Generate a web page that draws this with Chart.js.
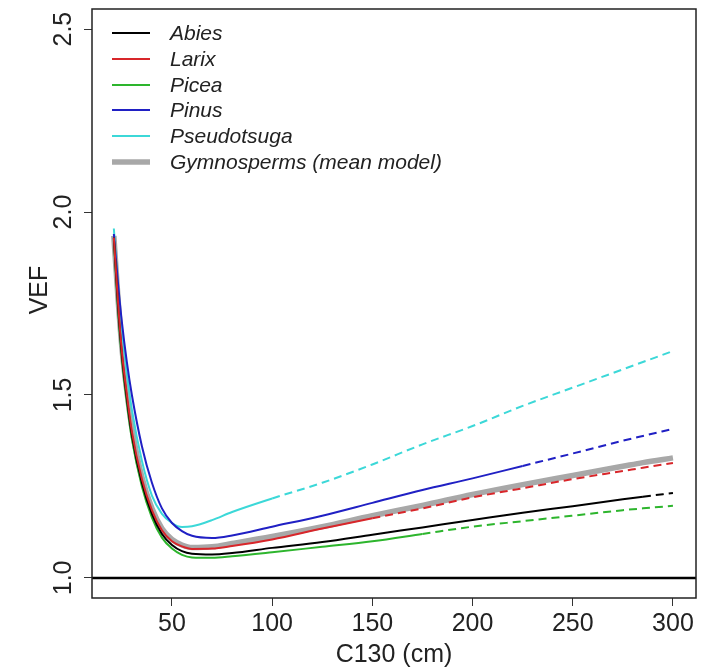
<!DOCTYPE html>
<html>
<head>
<meta charset="utf-8">
<script src="https://cdn.jsdelivr.net/npm/chart.js@4.4.1/dist/chart.umd.min.js"></script>
<style>
  html, body { margin: 0; padding: 0; background: #ffffff; }
  #wrap { width: 705px; height: 669px; position: relative; }
</style>
</head>
<body>
<div id="wrap"><canvas id="c" width="705" height="669"></canvas></div>
<script>
// ---- data ----
const c130 = [21, 23, 25, 27.5, 30, 35, 40, 45, 50, 55, 60, 70, 80, 100, 125, 150, 175, 200, 225, 250, 275, 285, 300];
const abies       = [1.93, 1.75, 1.61, 1.49, 1.39, 1.26, 1.175, 1.12, 1.09, 1.073, 1.066, 1.064, 1.068, 1.082, 1.098, 1.118, 1.138, 1.158, 1.178, 1.196, 1.215, 1.222, 1.232];
const larix       = [1.93, 1.76, 1.62, 1.50, 1.40, 1.27, 1.185, 1.13, 1.10, 1.086, 1.079, 1.08, 1.087, 1.105, 1.135, 1.163, 1.19, 1.22, 1.245, 1.27, 1.292, 1.301, 1.314];
const picea       = [1.925, 1.74, 1.60, 1.48, 1.38, 1.25, 1.165, 1.11, 1.08, 1.063, 1.056, 1.055, 1.059, 1.07, 1.085, 1.10, 1.12, 1.14, 1.155, 1.17, 1.185, 1.19, 1.197];
const pinus       = [1.94, 1.81, 1.70, 1.59, 1.50, 1.36, 1.26, 1.19, 1.15, 1.128, 1.115, 1.109, 1.116, 1.14, 1.17, 1.205, 1.24, 1.272, 1.306, 1.34, 1.375, 1.388, 1.407];
const pseudotsuga = [1.955, 1.80, 1.68, 1.56, 1.46, 1.32, 1.225, 1.175, 1.15, 1.139, 1.141, 1.158, 1.18, 1.217, 1.26, 1.31, 1.365, 1.415, 1.47, 1.52, 1.57, 1.59, 1.62];
const gymnosperms = [1.935, 1.77, 1.63, 1.51, 1.41, 1.275, 1.19, 1.135, 1.105, 1.09, 1.083, 1.085, 1.094, 1.113, 1.14, 1.17, 1.198, 1.228, 1.255, 1.28, 1.305, 1.315, 1.328];
// C130 beyond which each model is drawn dashed (extrapolation)
const seriesNames = ['Abies', 'Larix', 'Picea', 'Pinus', 'Pseudotsuga', 'Gymnosperms (mean model)'];
const solidUntil  = [285, 150, 175, 225, 100, 9999];
const xTickValues = [50, 100, 150, 200, 250, 300];
const yTickValues = [1.0, 1.5, 2.0, 2.5];
const yTickLabels = ['1.0', '1.5', '2.0', '2.5'];
const refLevel = [1.0];

const seriesValues = [abies, larix, picea, pinus, pseudotsuga, gymnosperms];
const colors = ['#000000', '#d8262a', '#2db52d', '#2020c4', '#3cd8d8', '#a8a8a8'];
const widths = [2, 2, 2, 2, 2, 5.5];
const X_MIN = 10.1, X_MAX = 311.5, Y_MIN = 0.945, Y_MAX = 2.555;
const FONT = '"Liberation Sans", Arial, sans-serif';

const datasets = seriesValues.map((vals, i) => ({
  label: seriesNames[i],
  data: c130.map((x, k) => ({ x: x, y: vals[k] })),
  borderColor: colors[i],
  backgroundColor: colors[i],
  borderWidth: widths[i],
  pointRadius: 0,
  fill: false,
  cubicInterpolationMode: 'monotone',
  order: i === 5 ? 10 : (i === 1 ? 1 : 2),
  borderDash: [],
  segment: {
    borderDash: ctx => (ctx.p0.parsed.x >= solidUntil[i] ? [8, 5] : undefined)
  }
}));
datasets.push({
  label: 'ref',
  data: [{ x: X_MIN, y: refLevel[0] }, { x: X_MAX, y: refLevel[0] }],
  borderColor: '#000000',
  borderWidth: 2.5,
  pointRadius: 0,
  order: 0
});

const decor = {
  id: 'decor',
  afterDraw(chart) {
    const ctx = chart.ctx;
    const a = chart.chartArea;
    const ys = chart.scales.y;
    ctx.save();
    // box
    ctx.strokeStyle = '#222';
    ctx.lineWidth = 1.5;
    ctx.strokeRect(a.left, a.top, a.right - a.left, a.bottom - a.top);
    // y tick labels (rotated, R style)
    ctx.fillStyle = '#222';
    ctx.font = '25px ' + FONT;
    ctx.textAlign = 'center';
    ctx.textBaseline = 'middle';
    yTickValues.forEach((v, i) => {
      const py = ys.getPixelForValue(v);
      ctx.save();
      ctx.translate(64, py);
      ctx.rotate(-Math.PI / 2);
      ctx.fillText(yTickLabels[i], 0, 0);
      ctx.restore();
    });
    // axis titles
    ctx.save();
    ctx.translate(40, 290);
    ctx.rotate(-Math.PI / 2);
    ctx.fillText('VEF', 0, 0);
    ctx.restore();
    ctx.fillText('C130 (cm)', (a.left + a.right) / 2, 655);
    // legend
    ctx.font = 'italic 21px ' + FONT;
    ctx.textAlign = 'left';
    const rowY = [33, 59, 85, 110, 136, 162];
    seriesNames.forEach((name, i) => {
      ctx.strokeStyle = colors[i];
      ctx.lineWidth = widths[i];
      ctx.setLineDash([]);
      ctx.beginPath();
      ctx.moveTo(112, rowY[i]);
      ctx.lineTo(150, rowY[i]);
      ctx.stroke();
      ctx.fillStyle = '#222';
      ctx.fillText(name, 170, rowY[i] + 1);
    });
    ctx.restore();
  }
};

new Chart(document.getElementById('c'), {
  type: 'line',
  data: { datasets: datasets },
  options: {
    responsive: false,
    animation: false,
    layout: { padding: { top: 9, right: 9, left: 0, bottom: 0 } },
    plugins: { legend: { display: false }, tooltip: { enabled: false } },
    scales: {
      x: {
        type: 'linear',
        min: X_MIN, max: X_MAX,
        afterBuildTicks: s => { s.ticks = xTickValues.map(v => ({ value: v })); },
        afterFit: s => { s.height = 71; },
        grid: { drawOnChartArea: false, drawTicks: true, tickLength: 8, color: '#333', lineWidth: 1 },
        border: { display: false },
        ticks: { color: '#222', font: { family: FONT, size: 25 }, padding: 3, maxRotation: 0, autoSkip: false }
      },
      y: {
        type: 'linear',
        min: Y_MIN, max: Y_MAX,
        afterBuildTicks: s => { s.ticks = yTickValues.map(v => ({ value: v })); },
        afterFit: s => { s.width = 92; },
        grid: { drawOnChartArea: false, drawTicks: true, tickLength: 8, color: '#333', lineWidth: 1 },
        border: { display: false },
        ticks: { display: false }
      }
    }
  },
  plugins: [decor]
});
</script>
</body>
</html>
